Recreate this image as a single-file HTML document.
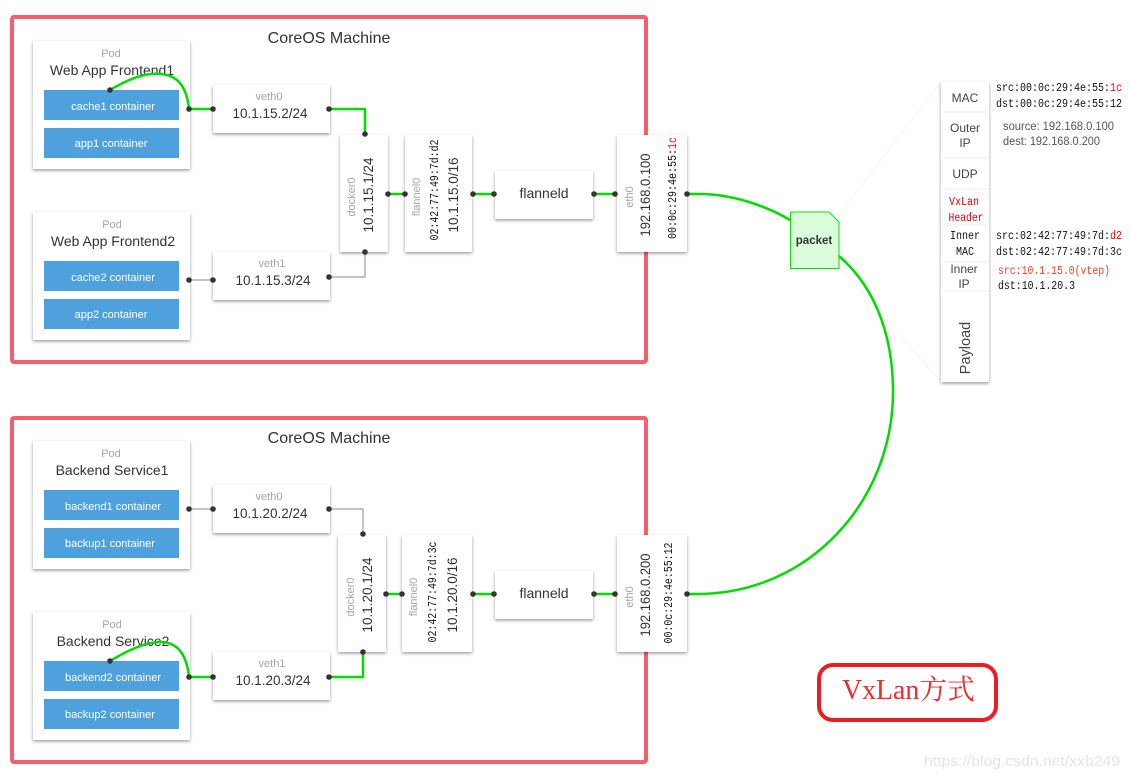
<!DOCTYPE html>
<html><head><meta charset="utf-8">
<style>
html,body{margin:0;padding:0;background:#fff}
svg{display:block}
text{font-family:"Liberation Sans","Noto Sans CJK SC",sans-serif;fill:#333}
.c{text-anchor:middle}
.lab{font-size:11px;fill:#a5a5a5;text-anchor:middle}
.big{font-size:14px;fill:#333;text-anchor:middle}
.ip{font-size:13.5px;fill:#333;text-anchor:middle}
.ct{font-size:11px;fill:#fff;text-anchor:middle}
.m{font-family:"Liberation Mono",monospace;fill:#111;font-size:11.5px}
.mr{font-family:"Liberation Mono",monospace;fill:#111;font-size:11.5px;text-anchor:middle}
.pn{font-size:12px;fill:#444;text-anchor:middle}
.frame{fill:#fff;stroke:#f45f6d;stroke-width:4}
.box{fill:#fff;filter:url(#sh)}
.blue{fill:#4ea1dc}
.g{fill:none;stroke:#00dc00;stroke-width:2.5}
.t{fill:none;stroke:#888;stroke-width:1}
.d{fill:#333}
</style></head><body>
<svg width="1130" height="779" viewBox="0 0 1130 779" xmlns="http://www.w3.org/2000/svg">
<defs><filter id="sh" x="-20%" y="-20%" width="140%" height="140%"><feDropShadow dx="0" dy="1.5" stdDeviation="1.5" flood-color="#000" flood-opacity="0.4"/></filter></defs>
<rect width="1130" height="779" fill="#fff"/>
<rect class="frame" x="12" y="17" width="634" height="345" rx="2"/>
<rect class="frame" x="12" y="418" width="634" height="344" rx="2"/>
<text class="c" x="329" y="43" font-size="16">CoreOS Machine</text>
<text class="c" x="329" y="443" font-size="16">CoreOS Machine</text>

<path d="M841 212L941 82M841 268L941 382" stroke="#f3f3f3" stroke-width="1" fill="none"/>

<!-- pods -->
<rect class="box" x="33" y="41" width="157" height="128"/>
<rect class="box" x="33" y="212" width="157" height="128"/>
<rect class="box" x="33" y="441" width="157" height="128"/>
<rect class="box" x="33" y="612" width="157" height="128"/>
<rect class="blue" x="44" y="90" width="135" height="30"/><rect class="blue" x="44" y="128" width="135" height="30"/>
<rect class="blue" x="44" y="261" width="135" height="30"/><rect class="blue" x="44" y="299" width="135" height="30"/>
<rect class="blue" x="44" y="490" width="135" height="30"/><rect class="blue" x="44" y="528" width="135" height="30"/>
<rect class="blue" x="44" y="661" width="135" height="30"/><rect class="blue" x="44" y="699" width="135" height="30"/>

<text class="lab" x="111" y="57">Pod</text><text class="big" x="112" y="75">Web App Frontend1</text>
<text class="ct" x="113" y="110">cache1 container</text><text class="ct" x="111" y="147">app1 container</text>
<text class="lab" x="112" y="228">Pod</text><text class="big" x="113" y="246">Web App Frontend2</text>
<text class="ct" x="113" y="281">cache2 container</text><text class="ct" x="111" y="318">app2 container</text>
<text class="lab" x="111" y="457">Pod</text><text class="big" x="112" y="475">Backend Service1</text>
<text class="ct" x="113" y="510">backend1 container</text><text class="ct" x="110" y="547">backup1 container</text>
<text class="lab" x="112" y="628">Pod</text><text class="big" x="113" y="646">Backend Service2</text>
<text class="ct" x="113" y="681">backend2 container</text><text class="ct" x="110" y="718">backup2 container</text>

<!-- boxes -->
<rect class="box" x="213" y="85" width="117" height="48"/>
<rect class="box" x="213" y="252" width="117" height="48"/>
<rect class="box" x="213" y="485" width="117" height="48"/>
<rect class="box" x="213" y="652" width="117" height="48"/>
<rect class="box" x="340" y="135" width="48" height="117"/>
<rect class="box" x="405" y="135" width="67" height="117"/>
<rect class="box" x="495" y="171" width="98" height="48"/>
<rect class="box" x="617" y="135" width="70" height="117"/>
<rect class="box" x="338" y="535" width="48" height="117"/>
<rect class="box" x="402" y="535" width="70" height="117"/>
<rect class="box" x="495" y="571" width="98" height="48"/>
<rect class="box" x="617" y="535" width="70" height="117"/>

<text class="lab" x="269" y="100">veth0</text><text class="ip" x="270" y="118">10.1.15.2/24</text>
<text class="lab" x="272" y="267">veth1</text><text class="ip" x="273" y="285">10.1.15.3/24</text>
<text class="lab" x="269" y="500">veth0</text><text class="ip" x="270" y="518">10.1.20.2/24</text>
<text class="lab" x="272" y="667">veth1</text><text class="ip" x="273" y="685">10.1.20.3/24</text>

<text class="lab" transform="translate(355 197) rotate(-90)">docker0</text>
<text class="ip" transform="translate(373 195) rotate(-90)">10.1.15.1/24</text>
<text class="lab" transform="translate(420 197) rotate(-90)">flannel0</text>
<text class="mr" transform="translate(438 190) rotate(-90)" textLength="101" lengthAdjust="spacingAndGlyphs">02:42:77:49:7d:d2</text>
<text class="ip" transform="translate(458 195) rotate(-90)">10.1.15.0/16</text>
<text class="big" x="544" y="198" font-size="14.5">flanneld</text>
<text class="lab" transform="translate(633 197) rotate(-90)">eth0</text>
<text class="ip" transform="translate(650 195) rotate(-90)" textLength="83" lengthAdjust="spacingAndGlyphs">192.168.0.100</text>
<text class="mr" transform="translate(676 188) rotate(-90)" textLength="102" lengthAdjust="spacingAndGlyphs">00:0c:29:4e:55:<tspan fill="#f00">1c</tspan></text>

<text class="lab" transform="translate(354 597) rotate(-90)">docker0</text>
<text class="ip" transform="translate(372 595) rotate(-90)">10.1.20.1/24</text>
<text class="lab" transform="translate(417 597) rotate(-90)">flannel0</text>
<text class="mr" transform="translate(436 592) rotate(-90)" textLength="101" lengthAdjust="spacingAndGlyphs">02:42:77:49:7d:3c</text>
<text class="ip" transform="translate(457 595) rotate(-90)">10.1.20.0/16</text>
<text class="big" x="544" y="598" font-size="14.5">flanneld</text>
<text class="lab" transform="translate(633 597) rotate(-90)">eth0</text>
<text class="ip" transform="translate(650 595) rotate(-90)" textLength="83" lengthAdjust="spacingAndGlyphs">192.168.0.200</text>
<text class="mr" transform="translate(672 593) rotate(-90)" textLength="101" lengthAdjust="spacingAndGlyphs">00:0c:29:4e:55:12</text>

<!-- connectors -->
<path class="g" d="M110 90C135 75 150 73 160 74C180 75 187 90 189 109H213"/>
<path class="g" d="M330 109H365V134"/>
<path class="g" d="M388 194H405M472 194H495M593 194H617"/>
<path class="t" d="M190 280H213M330 277H365V252M190 509H213M330 509H363V534"/>
<path class="g" d="M110 661C135 646 150 642 160 642C180 642 187 658 189 677H213"/>
<path class="g" d="M330 677H363V652"/>
<path class="g" d="M386 594H402M472 594H495M593 594H617"/>
<path class="g" d="M687 194H700C730 194 765 205 790 220"/>
<path class="g" d="M839 256C878 290 893 340 893 392C893 500 810 594 697 594H687"/>

<g class="d">
<circle cx="110" cy="90" r="2.8"/><circle cx="189" cy="109" r="2.8"/><circle cx="213" cy="109" r="2.8"/><circle cx="329" cy="109" r="2.8"/><circle cx="365" cy="134" r="2.8"/><circle cx="365" cy="252" r="2.8"/>
<circle cx="388" cy="194" r="2.8"/><circle cx="405" cy="194" r="2.8"/><circle cx="473" cy="194" r="2.8"/><circle cx="494" cy="194" r="2.8"/><circle cx="594" cy="194" r="2.8"/><circle cx="615" cy="194" r="2.8"/><circle cx="687" cy="194" r="2.8"/>
<circle cx="189" cy="280" r="2.8"/><circle cx="213" cy="280" r="2.8"/><circle cx="329" cy="277" r="2.8"/>
<circle cx="189" cy="509" r="2.8"/><circle cx="213" cy="509" r="2.8"/><circle cx="329" cy="509" r="2.8"/><circle cx="363" cy="534" r="2.8"/><circle cx="363" cy="652" r="2.8"/>
<circle cx="386" cy="594" r="2.8"/><circle cx="402" cy="594" r="2.8"/><circle cx="473" cy="594" r="2.8"/><circle cx="494" cy="594" r="2.8"/><circle cx="594" cy="594" r="2.8"/><circle cx="615" cy="594" r="2.8"/><circle cx="687" cy="594" r="2.8"/>
<circle cx="110" cy="661" r="2.8"/><circle cx="189" cy="677" r="2.8"/><circle cx="213" cy="677" r="2.8"/><circle cx="329" cy="677" r="2.8"/>
</g>

<!-- packet -->
<path d="M790.500 212H829L839 222V268.500H790.500Z" fill="#dcfddc" stroke="#10dc10" stroke-width="1"/>
<text class="c" x="814" y="244" font-size="11.500" font-weight="bold" fill="#333">packet</text>

<!-- header stack -->
<rect class="box" x="941" y="82" width="48" height="300"/>
<path d="M942 112H988M942 158H988M942 189H988M942 225H988M942 262H988M942 291H988" stroke="#eeeeee" stroke-width="1"/>
<text class="pn" x="965" y="102">MAC</text>
<text class="pn" x="965" y="132">Outer</text><text class="pn" x="965" y="147">IP</text>
<text class="pn" x="965" y="178">UDP</text>
<text class="mr" x="964" y="205" style="fill:#e8000a" textLength="30" lengthAdjust="spacingAndGlyphs">VxLan</text>
<text class="mr" x="966" y="221" style="fill:#e8000a" textLength="35" lengthAdjust="spacingAndGlyphs">Header</text>
<text class="mr" x="965" y="239" textLength="30" lengthAdjust="spacingAndGlyphs">Inner</text>
<text class="mr" x="965" y="255" textLength="18" lengthAdjust="spacingAndGlyphs">MAC</text>
<text class="pn" x="964" y="273">Inner</text><text class="pn" x="964" y="288">IP</text>
<text class="c" transform="translate(970 348) rotate(-90)" font-size="14.500" style="fill:#444">Payload</text>

<text class="m" x="996" y="91" textLength="126" lengthAdjust="spacingAndGlyphs">src:00:0c:29:4e:55:<tspan fill="#f00">1c</tspan></text>
<text class="m" x="996" y="107" textLength="126" lengthAdjust="spacingAndGlyphs">dst:00:0c:29:4e:55:12</text>
<text x="1003" y="130" font-size="11.500" style="fill:#555" textLength="111" lengthAdjust="spacingAndGlyphs">source: 192.168.0.100</text>
<text x="1003" y="145" font-size="11.500" style="fill:#555" textLength="97" lengthAdjust="spacingAndGlyphs">dest: 192.168.0.200</text>
<text class="m" x="996" y="239" textLength="126" lengthAdjust="spacingAndGlyphs">src:02:42:77:49:7d:<tspan fill="#f00">d2</tspan></text>
<text class="m" x="996" y="255" textLength="126" lengthAdjust="spacingAndGlyphs">dst:02:42:77:49:7d:3c</text>
<text class="m" x="998" y="274" style="fill:#f0402a" textLength="112" lengthAdjust="spacingAndGlyphs">src:10.1.15.0(vtep)</text>
<text class="m" x="998" y="289" textLength="77" lengthAdjust="spacingAndGlyphs">dst:10.1.20.3</text>

<!-- label -->
<rect x="819" y="665" width="177" height="55" rx="14" fill="#fff" stroke="#ed1c24" stroke-width="4"/>
<text x="842" y="699" font-size="28" style="font-family:'Liberation Serif','Noto Serif CJK SC',serif;fill:#ee2a2a" textLength="133" lengthAdjust="spacingAndGlyphs">VxLan方式</text>
<text x="924" y="766" font-size="15" style="fill:#e4e4e4" textLength="196" lengthAdjust="spacingAndGlyphs">https://blog.csdn.net/xxb249</text>
</svg>
</body></html>
